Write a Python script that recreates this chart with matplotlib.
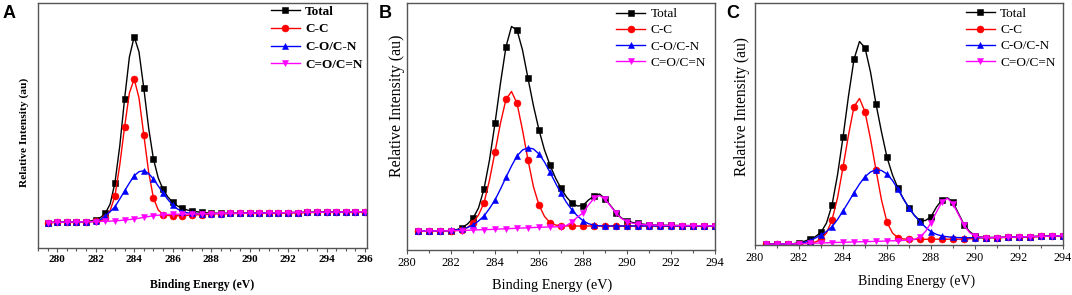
import numpy as np
import matplotlib
matplotlib.use("Agg")
import matplotlib.pyplot as plt
from matplotlib.ticker import MultipleLocator

plt.rcParams["font.family"] = ["Liberation Serif", "DejaVu Serif"]

# ---- Panel A (279.5 .. 296 eV, 0.25 eV step; markers every 0.5 eV) ----
A_X = np.arange(279.5, 296.01, 0.25)
A_TOTAL = [25.5, 25.6, 25.7, 25.8, 25.9, 26.0, 26.1, 26.2, 26.4, 27.0,
           28.5, 30.5, 34.7, 44.0, 65.3, 102.0, 149.0, 191.0, 211.3, 196.0,
           159.7, 120.0, 89.0, 70.0, 58.7, 51.0, 45.7, 42.0, 39.7, 38.0,
           37.0, 36.2, 35.7, 35.2, 34.9, 34.7, 34.6, 34.6, 34.6, 34.65,
           34.7, 34.8, 34.9, 34.95, 35.0, 35.05, 35.1, 35.15, 35.2, 35.3,
           35.4, 35.45, 35.5, 35.55, 35.6, 35.65, 35.7, 35.8, 35.9, 35.95,
           36.0, 36.05, 36.1, 36.15, 36.2, 36.25, 36.3]
A_CC = [25.5, 25.6, 25.7, 25.8, 25.9, 26.0, 26.1, 26.2, 26.3, 26.4,
        26.6, 27.2, 30.0, 37.5, 52.0, 83.0, 121.0, 155.0, 169.0, 150.0,
        113.0, 76.0, 50.0, 38.0, 33.5, 32.5, 32.3, 32.3, 32.4, 32.6,
        32.9, 33.2, 33.5, 33.8, 34.1, 34.45, 34.5, 34.55, 34.6, 34.65,
        34.7, 34.8, 34.9, 34.95, 35.0, 35.05, 35.1, 35.15, 35.2, 35.3,
        35.4, 35.45, 35.5, 35.55, 35.6, 35.65, 35.7, 35.8, 35.9, 35.95,
        36.0, 36.05, 36.1, 36.15, 36.2, 36.25, 36.3]
A_CO = [25.5, 25.6, 25.7, 25.8, 25.9, 26.0, 26.1, 26.2, 26.3, 26.4,
        26.8, 28.5, 32.0, 36.3, 41.3, 49.0, 57.0, 65.0, 72.3, 76.3,
        77.3, 74.5, 69.0, 62.0, 55.0, 48.5, 43.0, 39.0, 36.5, 35.2,
        34.6, 34.3, 34.2, 34.3, 34.4, 34.45, 34.5, 34.55, 34.6, 34.65,
        34.7, 34.8, 34.9, 34.95, 35.0, 35.05, 35.1, 35.15, 35.2, 35.3,
        35.4, 35.45, 35.5, 35.55, 35.6, 35.65, 35.7, 35.8, 35.9, 35.95,
        36.0, 36.05, 36.1, 36.15, 36.2, 36.25, 36.3]
A_CEO = [25.5, 25.6, 25.7, 25.8, 25.9, 26.0, 26.1, 26.2, 26.3, 26.4,
         26.5, 26.6, 26.7, 26.9, 27.1, 27.5, 28.0, 28.5, 29.0, 29.8,
         30.6, 31.5, 32.3, 32.8, 33.2, 33.5, 33.7, 33.8, 33.9, 34.0,
         34.1, 34.15, 34.2, 34.3, 34.4, 34.45, 34.5, 34.55, 34.6, 34.65,
         34.7, 34.8, 34.9, 34.95, 35.0, 35.05, 35.1, 35.15, 35.2, 35.3,
         35.4, 35.45, 35.5, 35.55, 35.6, 35.65, 35.7, 35.8, 35.9, 35.95,
         36.0, 36.05, 36.1, 36.15, 36.2, 36.25, 36.3]

# ---- Panel B (280.5 .. 294 eV) ----
B_X = np.arange(280.5, 294.01, 0.25)
B_TOTAL = [19.0, 19.0, 19.1, 19.1, 19.2, 19.3, 19.5, 20.3, 22.3, 26.0,
           31.7, 42.0, 61.0, 90.0, 126.7, 167.0, 203.3, 223.5, 220.0, 200.0,
           171.7, 144.0, 120.0, 100.0, 85.0, 72.0, 61.7, 53.0, 46.7, 44.0,
           44.5, 50.0, 54.0, 56.0, 51.5, 44.5, 37.5, 32.0, 29.3, 27.5,
           26.7, 25.8, 25.2, 25.0, 24.8, 24.7, 24.6, 24.5, 24.5, 24.4,
           24.4, 24.3, 24.3, 24.2, 24.2]
B_CC = [19.0, 19.0, 19.1, 19.1, 19.2, 19.2, 19.3, 19.5, 20.2, 22.5,
        27.5, 35.0, 47.0, 70.0, 98.0, 127.0, 150.7, 158.5, 146.7, 120.0,
        90.0, 63.0, 45.0, 33.5, 27.5, 25.0, 24.3, 24.1, 24.0, 24.0,
        24.0, 24.0, 24.0, 24.0, 24.0, 24.0, 24.0, 24.0, 24.0, 24.0,
        24.0, 24.0, 24.0, 24.0, 24.0, 24.0, 24.0, 24.0, 24.0, 24.0,
        24.0, 24.0, 24.0, 24.0, 24.0]
B_CO = [19.0, 19.0, 19.1, 19.1, 19.2, 19.2, 19.6, 20.0, 20.8, 22.5,
        25.0, 29.0, 34.0, 41.5, 50.0, 61.0, 72.7, 84.0, 94.0, 100.0,
        102.3, 101.0, 96.0, 88.0, 77.7, 67.0, 56.7, 47.5, 40.0, 34.0,
        29.3, 26.3, 24.8, 24.2, 24.0, 24.0, 24.0, 24.0, 24.0, 24.0,
        24.0, 24.0, 24.0, 24.0, 24.0, 24.0, 24.0, 24.0, 24.0, 24.0,
        24.0, 24.0, 24.0, 24.0, 24.0]
B_CEO = [19.0, 19.0, 19.1, 19.1, 19.2, 19.2, 19.3, 19.4, 19.5, 19.7,
         20.0, 20.2, 20.4, 20.5, 20.7, 21.0, 21.2, 21.5, 21.7, 22.0,
         22.2, 22.5, 22.7, 22.9, 23.0, 23.2, 23.3, 24.5, 28.0, 33.0,
         37.0, 45.0, 51.7, 54.5, 51.0, 44.0, 37.0, 31.5, 28.3, 26.8,
         26.0, 25.5, 25.2, 25.0, 24.8, 24.7, 24.6, 24.5, 24.5, 24.4,
         24.4, 24.3, 24.3, 24.2, 24.2]

# ---- Panel C (280.5 .. 294 eV) ----
C_X = np.arange(280.5, 294.01, 0.25)
C_TOTAL = [0.7, 0.8, 0.9, 1.0, 1.1, 1.3, 2.5, 3.8, 5.7, 8.5,
           12.7, 22.0, 40.0, 70.0, 107.7, 149.0, 185.7, 203.5, 197.3, 173.0,
           141.0, 113.0, 87.7, 70.0, 56.7, 46.0, 37.3, 29.5, 24.3, 24.5,
           28.3, 38.0, 45.0, 47.3, 42.7, 31.5, 20.5, 13.5, 9.5, 8.0,
           7.5, 7.5, 7.5, 7.6, 7.8, 7.9, 8.0, 8.2, 8.3, 8.5,
           8.6, 8.8, 9.0, 9.1, 9.3]
C_CC = [0.7, 0.8, 0.9, 1.0, 1.1, 1.2, 1.3, 1.5, 1.8, 3.0,
        5.7, 12.0, 25.0, 47.0, 77.7, 110.0, 138.3, 146.5, 133.3, 106.0,
        75.0, 45.0, 22.7, 12.0, 7.3, 6.0, 5.7, 5.7, 5.7, 5.7,
        5.7, 5.8, 5.8, 5.8, 5.8, 5.8, 5.8, 6.2, 6.8, 7.2,
        7.3, 7.4, 7.5, 7.6, 7.8, 7.9, 8.0, 8.2, 8.3, 8.5,
        8.6, 8.8, 9.0, 9.1, 9.3]
C_CO = [0.7, 0.8, 0.9, 1.0, 1.1, 1.2, 1.5, 2.5, 4.5, 7.0,
        10.0, 13.5, 18.3, 25.5, 34.0, 43.0, 52.3, 61.0, 68.3, 73.0,
        75.3, 74.5, 71.0, 64.5, 55.7, 46.0, 36.7, 29.5, 23.3, 17.8,
        13.3, 10.6, 9.0, 8.2, 7.7, 7.4, 7.3, 7.3, 7.3, 7.3,
        7.3, 7.4, 7.5, 7.6, 7.8, 7.9, 8.0, 8.2, 8.3, 8.5,
        8.6, 8.8, 9.0, 9.1, 9.3]
C_CEO = [0.7, 0.8, 0.9, 1.0, 1.1, 1.2, 1.3, 1.5, 1.7, 1.9,
         2.0, 2.2, 2.4, 2.6, 2.7, 2.9, 3.0, 3.2, 3.4, 3.5,
         3.7, 3.8, 4.0, 4.2, 4.4, 4.6, 4.9, 5.5, 8.0, 13.5,
         22.3, 33.0, 43.3, 46.7, 41.0, 30.5, 20.0, 12.5, 9.0, 7.8,
         7.3, 7.4, 7.5, 7.6, 7.8, 7.9, 8.0, 8.2, 8.3, 8.5,
         8.6, 8.8, 9.0, 9.1, 9.3]

LABELS = ["Total", "C-C", "C-O/C-N", "C=O/C=N"]
COLORS = ["#000000", "#ff0000", "#0000ff", "#ff00ff"]
MARKERS = ["s", "o", "^", "v"]
FRAME = "#555555"

W, H = 1072, 295


def px_axes(left, top, right, bottom):
    """Axes rectangle from pixel box of the reference picture."""
    return [left / W, (H - bottom) / H, (right - left) / W, (bottom - top) / H]


def draw_panel(ax, x, series, xlim, ylim, minor, weight, tick_size, leg_size,
               leg_anchor, leg_space):
    for y, lab, col, mk in zip(series, LABELS, COLORS, MARKERS):
        ax.plot(x, y, color=col, lw=1.0, marker=mk, markevery=2, markersize=5,
                markeredgewidth=0.4, label=lab)
    ax.set_xlim(*xlim)
    ax.set_ylim(*ylim)
    ax.xaxis.set_major_locator(MultipleLocator(2))
    ax.xaxis.set_minor_locator(MultipleLocator(minor))
    ax.set_yticks([])
    ax.tick_params(axis="x", which="both", direction="out", color=FRAME, width=0.8, pad=2,
                   labelsize=tick_size)
    ax.tick_params(axis="x", which="major", length=3)
    ax.tick_params(axis="x", which="minor", length=2.5)
    for lbl in ax.get_xticklabels():
        lbl.set_fontweight(weight)
    for sp in ax.spines.values():
        sp.set_color(FRAME)
        sp.set_linewidth(1.0)
    ax.legend(loc="upper left", bbox_to_anchor=leg_anchor, frameon=False,
              borderaxespad=0, borderpad=0, handlelength=2.2, handletextpad=0.4,
              labelspacing=leg_space, prop={"size": leg_size, "weight": weight})


fig = plt.figure(figsize=(W / 100, H / 100), dpi=100)

axA = fig.add_axes(px_axes(38, 3, 367, 248))
draw_panel(axA, A_X, [A_TOTAL, A_CC, A_CO, A_CEO], (279.0, 296.1), (0, 245), 0.5,
           "bold", 8, 9.5, (0.708, 0.99), 0.42)
axB = fig.add_axes(px_axes(407, 3, 715, 250))
draw_panel(axB, B_X, [B_TOTAL, B_CC, B_CO, B_CEO], (280, 294), (0, 247), 1,
           "normal", 9, 9.5, (0.68, 0.98), 0.3)
axC = fig.add_axes(px_axes(755, 3, 1063, 245))
draw_panel(axC, C_X, [C_TOTAL, C_CC, C_CO, C_CEO], (280, 294), (0, 242), 1,
           "normal", 8.7, 9.5, (0.685, 0.98), 0.3)

# axis titles placed at the reference pixel positions
fig.text(24 / W, 1 - 132 / H, "Relative Intensity (au)", rotation=90, ha="center",
         va="center", fontsize=8.2, fontweight="bold")
fig.text(202 / W, 1 - 285 / H, "Binding Energy (eV)", ha="center", va="center",
         fontsize=8.5, fontweight="bold")
fig.text(397 / W, 1 - 106 / H, "Relative Intensity (au)", rotation=90, ha="center",
         va="center", fontsize=11.5)
fig.text(552 / W, 1 - 285 / H, "Binding Energy (eV)", ha="center", va="center", fontsize=10.3)
fig.text(742 / W, 1 - 107 / H, "Relative Intensity (au)", rotation=90, ha="center",
         va="center", fontsize=11.2)
fig.text(917 / W, 1 - 281 / H, "Binding Energy (eV)", ha="center", va="center", fontsize=10)

# panel letters
for px, letter in [(3, "A"), (379, "B"), (726, "C")]:
    fig.text(px / W, 1 - 5 / H, letter, ha="left", va="top", fontsize=13,
             fontweight="bold", family=["Liberation Sans", "DejaVu Sans"])

fig.savefig("out.png", dpi=100)
